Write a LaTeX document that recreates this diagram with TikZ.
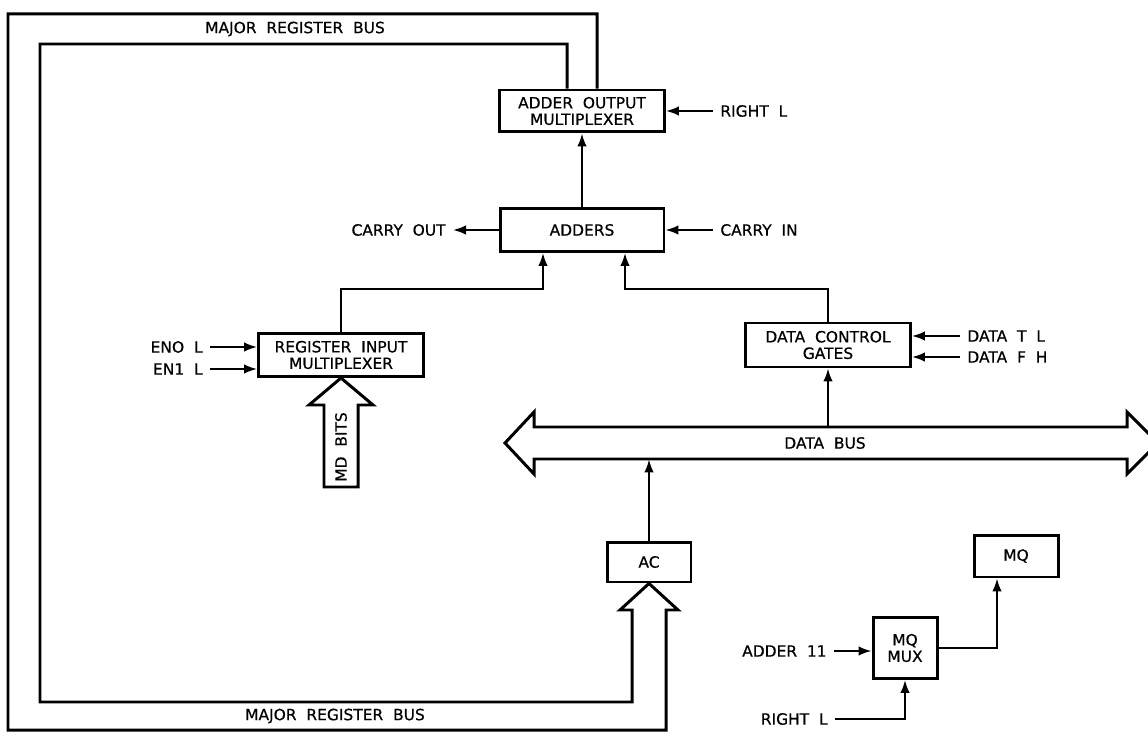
\documentclass[tikz,border=0pt]{standalone}
\usepackage{fontspec}
\setmainfont{DejaVu Sans}[WordSpace=2, FakeBold=0.6]
\usetikzlibrary{positioning, arrows.meta}

\begin{document}
\begin{tikzpicture}[
    x=0.02cm, y=-0.02cm,
    every node/.style={font=\fontsize{8.8pt}{9.4pt}\selectfont},
    box/.style={draw, line width=1.7pt, align=center, inner sep=0pt},
    lbl/.style={inner xsep=4pt, inner ysep=1pt},
    arrow/.style={-{Latex[length=2.6mm,width=1.9mm]}, line width=1.1pt},
    bus/.style={line width=1.7pt, line join=miter}
]
\useasboundingbox (0,0) rectangle (1148,739);

% Blocks
\node[box, minimum width=3.3cm, minimum height=0.84cm]  (aom)    at (582,111) {ADDER OUTPUT\\MULTIPLEXER};
\node[box, minimum width=3.28cm, minimum height=0.86cm] (adders) at (582,230) {ADDERS};
\node[box, minimum width=3.3cm, minimum height=0.86cm]  (rim)    at (341,355) {REGISTER INPUT\\MULTIPLEXER};
\node[box, minimum width=3.3cm, minimum height=0.88cm]  (dcg)    at (828,345) {DATA CONTROL\\GATES};
\node[box, minimum width=1.68cm, minimum height=0.8cm]  (ac)     at (649,562) {AC};
\node[box, minimum width=1.68cm, minimum height=0.84cm] (mq)     at (1016,556) {MQ};
\node[box, minimum width=1.28cm, minimum height=1.22cm] (mqmux)  at (905,648) {MQ\\MUX};

% Signal names
\node[lbl, anchor=west] (rightl)   at (713,111) {RIGHT L};
\node[lbl, anchor=west] (carryin)  at (713,230) {CARRY IN};
\node[lbl, anchor=east] (carryout) at (453,230) {CARRY OUT};
\node[lbl, anchor=east] (en0)      at (210,347) {ENO L};
\node[lbl, anchor=east] (en1)      at (210,369) {EN1 L};
\node[lbl, anchor=west] (datat)    at (960,336) {DATA T L};
\node[lbl, anchor=west] (dataf)    at (960,357) {DATA F H};
\node[lbl, anchor=east] (adder11)  at (834,651) {ADDER 11};
\node[lbl, anchor=east] (rightm)   at (835,719) {RIGHT L};

% Bus labels
\node (mrbtop) at (295,29)  {MAJOR REGISTER BUS};
\node (mrbbot) at (335,716) {MAJOR REGISTER BUS};
\node[minimum width=1cm, minimum height=0.64cm] (databus) at (825,443) {DATA BUS};
\node[rotate=90] (mdbits) at (341,447) {MD BITS};

% Major register bus, data bus and MD bits
\coordinate (inr)  at ([xshift=-0.3cm]aom.north);
\coordinate (outr) at ([xshift=0.3cm]aom.north);
\draw[bus] (inr) |- (40,44) |- (632,702) -- (632,610) -- (620,610) -- (ac.south)
    -- (678,610) -- (666,610) |- (8,730) |- (597,14) -- (outr);
\draw[bus] (505,443) -- (534,412) -- (534,427) -- (1127,427) -- (1127,412) -- (1158,443)
    -- (1127,474) -- (1127,459) -- (534,459) -- (534,474) -- cycle;
\draw[bus] (rim.south) -- (309,405) -- (324,405) -- (324,487) -- (358,487) -- (358,405)
    -- (373,405) -- cycle;

% Arrows
\coordinate (jl) at (543,289);
\coordinate (jr) at (625,289);
\draw[arrow] (rightl) -- (aom);
\draw[arrow] (carryin) -- (adders);
\draw[arrow] (adders) -- (carryout);
\draw[arrow] (adders) -- (aom);
\draw[arrow] (rim.north) |- (jl) -- (jl |- adders.south);
\draw[arrow] (dcg.north) |- (jr) -- (jr |- adders.south);
\draw[arrow] (en0) -- (en0 -| rim.west);
\draw[arrow] (en1) -- (en1 -| rim.west);
\draw[arrow] (datat) -- (datat -| dcg.east);
\draw[arrow] (dataf) -- (dataf -| dcg.east);
\draw[arrow] (dcg.south |- databus.north) -- (dcg);
\draw[arrow] (ac) -- (ac |- databus.south);
\draw[arrow] (adder11) -- (adder11 -| mqmux.west);
\draw[arrow] (rightm) -| (mqmux);
\draw[arrow] (mqmux) -| ([xshift=-0.38cm]mq.south);

\end{tikzpicture}
\end{document}
